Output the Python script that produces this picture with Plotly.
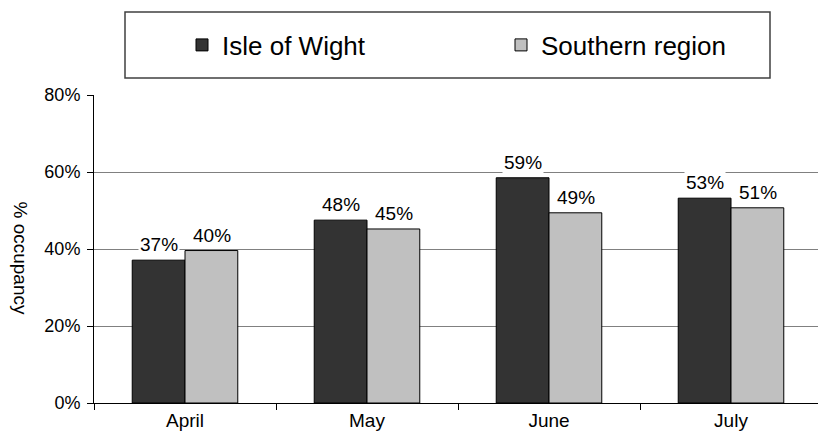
import plotly.graph_objects as go

months = ["April", "May", "June", "July"]
isle_of_wight = [0.371, 0.475, 0.585, 0.532]
southern_region = [0.396, 0.452, 0.494, 0.507]
iow_labels = ["37%", "48%", "59%", "53%"]
south_labels = ["40%", "45%", "49%", "51%"]
y_ticks = [0, 0.2, 0.4, 0.6, 0.8]
y_tick_labels = ["0%", "20%", "40%", "60%", "80%"]

FONT = "Liberation Sans, Arial, sans-serif"
OFF = 8  # page body margin
W, H = 826 - OFF, 441 - OFF
L, R, T, B = 94 - OFF, 822 - OFF, 95 - OFF, 403 - OFF
PW, PH = R - L, B - T


def px(x):
    return (x - OFF - L) / PW


def py(y):
    return (B - (y - OFF)) / PH


fig = go.Figure()
fig.add_trace(go.Bar(x=months, y=isle_of_wight, name="Isle of Wight",
                     marker=dict(color="#333333", line=dict(color="black", width=1))))
fig.add_trace(go.Bar(x=months, y=southern_region, name="Southern region",
                     marker=dict(color="#c0c0c0", line=dict(color="black", width=1))))

annotations = []
for m, v, t in zip(months, isle_of_wight, iow_labels):
    annotations.append(dict(x=m, y=v, text=t, xref="x", yref="y", showarrow=False,
                            xshift=-26, yshift=3, yanchor="bottom", bgcolor="white",
                            font=dict(size=19, color="black", family=FONT)))
for m, v, t in zip(months, southern_region, south_labels):
    annotations.append(dict(x=m, y=v, text=t, xref="x", yref="y", showarrow=False,
                            xshift=27, yshift=3, yanchor="bottom", bgcolor="white",
                            font=dict(size=19, color="black", family=FONT)))
annotations.append(dict(text="% occupancy", x=px(9), y=py(258),
                        xref="paper", yref="paper", showarrow=False, textangle=90,
                        xanchor="left", yanchor="middle", borderpad=0,
                        font=dict(size=19, color="black", family=FONT)))

fig.update_layout(
    width=W, height=H,
    margin=dict(l=L, r=W - R, t=T, b=H - B, autoexpand=False),
    paper_bgcolor="white", plot_bgcolor="white",
    barmode="group", bargap=0.42, bargroupgap=0,
    font=dict(family=FONT, size=18, color="black"),
    showlegend=True,
    legend=dict(orientation="h", x=px(182), y=py(45),
                xanchor="left", yanchor="middle", entrywidth=274,
                font=dict(size=26, family=FONT, color="black"),
                bgcolor="rgba(0,0,0,0)", borderwidth=0),
    xaxis=dict(showline=True, linecolor="black", linewidth=1, ticks="outside",
               tickson="boundaries", ticklen=6, tickcolor="black",
               tickfont=dict(size=19, family=FONT, color="black")),
    yaxis=dict(range=[0, 0.8], tickvals=y_ticks, ticktext=y_tick_labels,
               showline=True, linecolor="black", linewidth=1, ticks="outside",
               ticklen=6, tickcolor="black", showgrid=True, gridcolor="#808080",
               gridwidth=1, zeroline=False, ticklabelstandoff=3,
               tickfont=dict(size=18, family=FONT, color="black")),
    annotations=annotations,
)

# Legend frame
fig.add_shape(type="rect", xref="paper", yref="paper",
              x0=px(125), x1=px(770), y0=py(78), y1=py(12),
              line=dict(color="#404040", width=1.5), fillcolor="rgba(0,0,0,0)")

fig.write_html("out.html")
